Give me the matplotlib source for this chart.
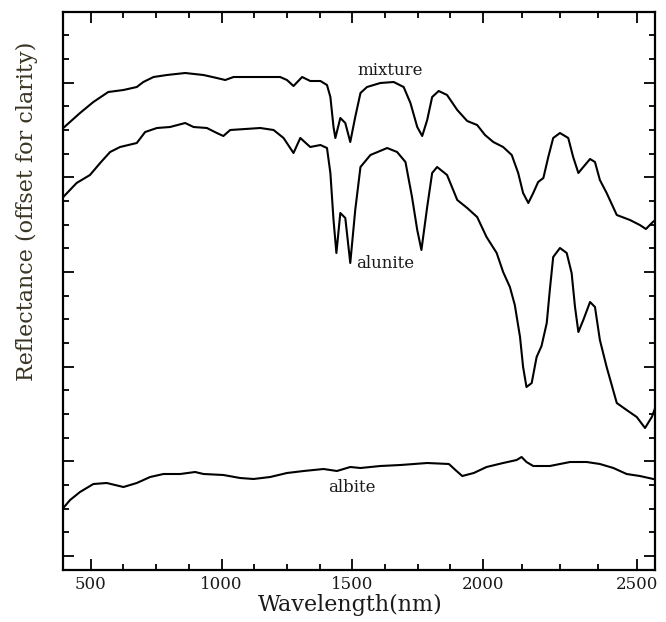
import numpy as np
import matplotlib
matplotlib.use("Agg")
import matplotlib.pyplot as plt
from matplotlib.ticker import FixedLocator, NullFormatter

# wavelength (nm) and offset reflectance
mix_wl = [395, 459, 510, 567, 625, 676, 701, 740, 791, 861, 931, 982, 1014, 1046, 1148,
          1224, 1250, 1275, 1308, 1339, 1378, 1403, 1416, 1428, 1435, 1454, 1473, 1492,
          1511, 1531, 1556, 1607, 1658, 1696, 1722, 1748, 1767, 1786, 1805, 1830, 1862,
          1901, 1939, 1977, 2006, 2033, 2065, 2093, 2114, 2130, 2147, 2163, 2179, 2196,
          2212, 2228, 2250, 2277, 2293, 2310, 2326, 2348, 2364, 2380, 2402, 2435, 2478,
          2510, 2530, 2549, 2560]
mix_r = [4.42, 4.57, 4.68, 4.78, 4.80, 4.83, 4.88, 4.93, 4.95, 4.97, 4.95, 4.92, 4.90, 4.93, 4.93,
         4.93, 4.90, 4.84, 4.93, 4.89, 4.89, 4.85, 4.73, 4.43, 4.32, 4.52, 4.47, 4.28,
         4.53, 4.77, 4.83, 4.87, 4.88, 4.83, 4.67, 4.43, 4.34, 4.50, 4.73, 4.79, 4.75,
         4.60, 4.49, 4.45, 4.35, 4.28, 4.23, 4.15, 3.97, 3.77, 3.67, 3.77, 3.88, 3.92,
         4.13, 4.32, 4.37, 4.32, 4.13, 3.97, 4.03, 4.11, 4.08, 3.90, 3.77, 3.55, 3.50,
         3.45, 3.41, 3.47, 3.50]

alu_wl = [395, 446, 497, 536, 574, 612, 676, 708, 753, 803, 861, 893, 944, 982, 1007, 1033,
          1148, 1199, 1237, 1275, 1301, 1339, 1378, 1403, 1416, 1428, 1439, 1454, 1473,
          1492, 1511, 1531, 1569, 1633, 1671, 1703, 1728, 1748, 1764, 1786, 1805, 1824,
          1862, 1901, 1939, 1977, 2011, 2044, 2065, 2087, 2103, 2120, 2130, 2141, 2158,
          2174, 2190, 2207, 2217, 2228, 2250, 2272, 2288, 2299, 2310, 2326, 2348, 2364,
          2380, 2402, 2435, 2467, 2500, 2527, 2549, 2560]
alu_r = [3.73, 3.87, 3.95, 4.07, 4.18, 4.23, 4.27, 4.38, 4.42, 4.43, 4.47, 4.43, 4.42, 4.37, 4.34, 4.40,
         4.42, 4.40, 4.32, 4.17, 4.32, 4.23, 4.25, 4.22, 3.97, 3.50, 3.17, 3.57, 3.52,
         3.07, 3.60, 4.03, 4.15, 4.22, 4.18, 4.08, 3.73, 3.40, 3.20, 3.63, 3.97, 4.03,
         3.95, 3.70, 3.62, 3.53, 3.33, 3.17, 2.98, 2.83, 2.65, 2.33, 2.03, 1.83, 1.87,
         2.13, 2.24, 2.47, 2.80, 3.13, 3.22, 3.17, 2.97, 2.63, 2.38, 2.50, 2.68, 2.63,
         2.30, 2.03, 1.67, 1.60, 1.53, 1.42, 1.53, 1.62]

alb_wl = [395, 421, 459, 510, 561, 625, 676, 727, 778, 842, 899, 931, 1007, 1071, 1122, 1186,
          1250, 1314, 1390, 1441, 1492, 1531, 1607, 1684, 1786, 1869, 1894, 1920, 1964,
          2011, 2065, 2109, 2125, 2141, 2163, 2217, 2283, 2337, 2380, 2424, 2467, 2510, 2554]
alb_r = [0.62, 0.70, 0.78, 0.86, 0.87, 0.83, 0.87, 0.93, 0.96, 0.96, 0.98, 0.96, 0.95, 0.92, 0.91, 0.93,
         0.97, 0.99, 1.01, 0.99, 1.03, 1.02, 1.04, 1.05, 1.07, 1.06, 1.00, 0.94, 0.97,
         1.03, 1.07, 1.10, 1.13, 1.08, 1.04, 1.04, 1.08, 1.08, 1.06, 1.02, 0.96, 0.94, 0.91]

x_major = [500, 1000, 1500, 2000, 2500]

# the scanned figure stretches the axis past 2000 nm
K = 1.174


def fwd(x):
    x = np.asarray(x, dtype=float)
    return np.where(x <= 2000, x, 2000 + (x - 2000) * K)


def inv(y):
    y = np.asarray(y, dtype=float)
    return np.where(y <= 2000, y, 2000 + (y - 2000) / K)


serif = "DejaVu Serif"

fig = plt.figure(figsize=(6.66, 6.22), dpi=100)
ax = fig.add_axes([0.0946, 0.0836, 0.8896, 0.8971])
ax.set_xscale("function", functions=(fwd, inv))

ax.plot(mix_wl, mix_r, color="black", lw=1.5)
ax.plot(alu_wl, alu_r, color="black", lw=1.5)
ax.plot(alb_wl, alb_r, color="black", lw=1.5)

ax.text(1645, 5.00, "mixture", family=serif, fontsize=12, ha="center", va="center", color="#1a1a1a")
ax.text(1626, 3.07, "alunite", family=serif, fontsize=12, ha="center", va="center", color="#1a1a1a")
ax.text(1500, 0.83, "albite", family=serif, fontsize=12, ha="center", va="center", color="#1a1a1a")

ax.set_xlim(394, 2561)
ax.set_ylim(0, 5.58)

ax.xaxis.set_major_locator(FixedLocator(x_major))
ax.xaxis.set_minor_locator(FixedLocator([m for m in np.arange(500, 2501, 125) if m % 500]))
yt = 0.14 + 0.2366 * np.arange(23)
ax.yaxis.set_major_locator(FixedLocator(yt[::4]))
ax.yaxis.set_minor_locator(FixedLocator([v for i, v in enumerate(yt) if i % 4]))
ax.yaxis.set_major_formatter(NullFormatter())

ax.tick_params(which="both", direction="in", top=True, right=True, width=1.3, color="black")
ax.tick_params(which="major", length=8)
ax.tick_params(which="minor", length=4.5)
ax.tick_params(axis="x", which="major", pad=4, labelsize=12, labelcolor="#1a1a1a")
for lab in ax.get_xticklabels():
    lab.set_family(serif)
for s in ax.spines.values():
    s.set_linewidth(1.6)

ax.set_xlabel("Wavelength(nm)", family=serif, fontsize=16, color="#1a1a1a")
ax.xaxis.set_label_coords(0.484, -0.043)
ax.set_ylabel("Reflectance (offset for clarity)", family=serif, fontsize=16, color="#3a3424")
ax.yaxis.set_label_coords(-0.042, 0.642)

fig.savefig("out.png", dpi=100)
